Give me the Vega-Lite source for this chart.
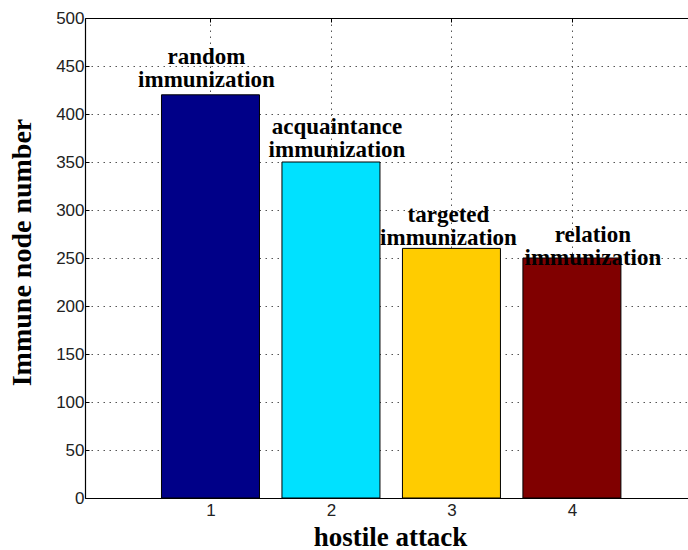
{
  "$schema": "https://vega.github.io/schema/vega-lite/v6.json",
  "autosize": {"type": "none"},
  "padding": {"left": 85, "top": 18, "right": 0, "bottom": 52},
  "width": 603,
  "height": 480,
  "background": "white",
  "config": {
    "view": {"stroke": null},
    "axis": {
      "domainColor": "black",
      "domainWidth": 1.2,
      "tickColor": "black",
      "tickSize": -4,
      "labelFont": "Liberation Sans",
      "labelFontSize": 17,
      "labelColor": "#222",
      "titleFont": "Liberation Serif",
      "titleFontWeight": "bold",
      "titleFontSize": 27,
      "titleColor": "black",
      "gridColor": "#555",
      "gridDash": [1.5, 4.5],
      "gridWidth": 1
    }
  },
  "data": {
    "values": [
      {"attack": 1, "nodes": 420, "label": "random\nimmunization", "color": "#000088"},
      {"attack": 2, "nodes": 350, "label": "acquaintance\nimmunization", "color": "#00E1FF"},
      {"attack": 3, "nodes": 260, "label": "targeted\nimmunization", "color": "#FFCC00"},
      {"attack": 4, "nodes": 250, "label": "relation\nimmunization", "color": "#800000"}
    ]
  },
  "resolve": {"axis": {"x": "independent"}},
  "layer": [
    {
      "mark": {"type": "bar", "size": 98, "stroke": "black", "strokeWidth": 1},
      "encoding": {
        "x": {
          "field": "attack",
          "type": "quantitative",
          "scale": {"domain": [0, 4.922], "nice": false, "zero": false},
          "axis": {
            "values": [1, 2, 3, 4],
            "title": "hostile attack",
            "labelPadding": 8,
            "grid": true,
            "titleX": 305,
            "titleY": 47,
            "titleBaseline": "alphabetic"
          }
        },
        "y": {
          "field": "nodes",
          "type": "quantitative",
          "scale": {"domain": [0, 500], "nice": false},
          "axis": {
            "values": [0, 50, 100, 150, 200, 250, 300, 350, 400, 450, 500],
            "title": "Immune node number",
            "titleFontSize": 28,
            "labelPadding": 5,
            "grid": true,
            "titleX": -63,
            "titleY": 234,
            "titleAngle": -90,
            "titleAlign": "center",
            "titleBaseline": "middle"
          }
        },
        "color": {"field": "color", "type": "nominal", "scale": null}
      }
    },
    {
      "mark": {"type": "point", "opacity": 0},
      "encoding": {
        "x": {
          "field": "attack",
          "type": "quantitative",
          "axis": {"orient": "top", "values": [1, 2, 3, 4], "labels": false, "title": null, "grid": false}
        },
        "y": {"field": "nodes", "type": "quantitative"}
      }
    },
    {
      "transform": [{"filter": "datum.attack == 1"}],
      "mark": {"type": "text", "font": "Liberation Serif", "fontWeight": "bold", "fontSize": 23, "lineHeight": 23, "lineBreak": "\n", "baseline": "bottom", "align": "center", "dx": -4, "dy": -26, "color": "black"},
      "encoding": {"x": {"field": "attack", "type": "quantitative", "axis": null}, "y": {"field": "nodes", "type": "quantitative"}, "text": {"field": "label"}}
    },
    {
      "transform": [{"filter": "datum.attack == 2"}],
      "mark": {"type": "text", "font": "Liberation Serif", "fontWeight": "bold", "fontSize": 23, "lineHeight": 23, "lineBreak": "\n", "baseline": "bottom", "align": "center", "dx": 6, "dy": -23.5, "color": "black"},
      "encoding": {"x": {"field": "attack", "type": "quantitative", "axis": null}, "y": {"field": "nodes", "type": "quantitative"}, "text": {"field": "label"}}
    },
    {
      "transform": [{"filter": "datum.attack == 3"}],
      "mark": {"type": "text", "font": "Liberation Serif", "fontWeight": "bold", "fontSize": 23, "lineHeight": 23, "lineBreak": "\n", "baseline": "bottom", "align": "center", "dx": -3, "dy": -21.5, "color": "black"},
      "encoding": {"x": {"field": "attack", "type": "quantitative", "axis": null}, "y": {"field": "nodes", "type": "quantitative"}, "text": {"field": "label"}}
    },
    {
      "transform": [{"filter": "datum.attack == 4"}],
      "mark": {"type": "text", "font": "Liberation Serif", "fontWeight": "bold", "fontSize": 23, "lineHeight": 23, "lineBreak": "\n", "baseline": "bottom", "align": "center", "dx": 21, "dy": -11.5, "color": "black"},
      "encoding": {"x": {"field": "attack", "type": "quantitative", "axis": null}, "y": {"field": "nodes", "type": "quantitative"}, "text": {"field": "label"}}
    }
  ]
}
